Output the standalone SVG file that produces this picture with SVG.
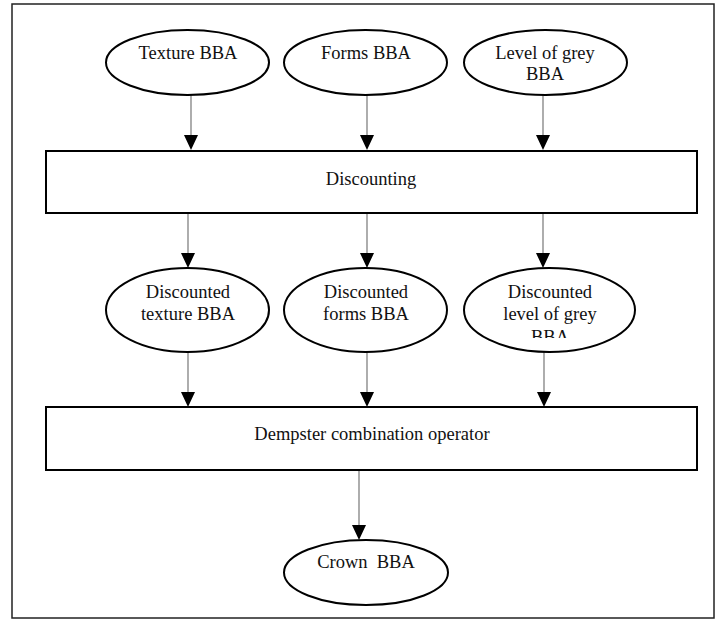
<svg xmlns="http://www.w3.org/2000/svg" width="721" height="621" viewBox="0 0 721 621">
<defs>
<style>
.frame{fill:none;stroke:#222;stroke-width:1.5}
.box{fill:#fff;stroke:#000;stroke-width:2}
.node{fill:#fff;stroke:#000;stroke-width:2}
.edge{stroke:#777;stroke-width:1.2;fill:none}
.head{fill:#000}
text{font-family:"Liberation Serif","Times New Roman",serif;font-size:18.5px;fill:#111;text-anchor:middle}
</style>
<clipPath id="clipGrey"><rect x="464" y="268" width="172" height="70"/></clipPath>
</defs>
<rect class="frame" x="12" y="4" width="702" height="614"/>
<g id="connectors">
<line class="edge" x1="191" y1="95" x2="191" y2="137"/><polygon class="head" points="184,135 198,135 191,150"/>
<line class="edge" x1="367" y1="95" x2="367" y2="137"/><polygon class="head" points="360,135 374,135 367,150"/>
<line class="edge" x1="543" y1="95" x2="543" y2="137"/><polygon class="head" points="536,135 550,135 543,150"/>
<line class="edge" x1="188" y1="213" x2="188" y2="255"/><polygon class="head" points="181,253 195,253 188,268"/>
<line class="edge" x1="367" y1="213" x2="367" y2="255"/><polygon class="head" points="360,253 374,253 367,268"/>
<line class="edge" x1="543" y1="213" x2="543" y2="255"/><polygon class="head" points="536,253 550,253 543,268"/>
<line class="edge" x1="188" y1="352" x2="188" y2="394"/><polygon class="head" points="181,392 195,392 188,407"/>
<line class="edge" x1="367" y1="352" x2="367" y2="394"/><polygon class="head" points="360,392 374,392 367,407"/>
<line class="edge" x1="544" y1="352" x2="544" y2="394"/><polygon class="head" points="537,392 551,392 544,407"/>
<line class="edge" x1="359" y1="470" x2="359" y2="527"/><polygon class="head" points="352,525 366,525 359,540"/>
</g>
<g id="texture"><ellipse class="node" cx="187.5" cy="62.5" rx="81.5" ry="32.5"/><text x="188" y="59">Texture BBA</text></g>
<g id="forms"><ellipse class="node" cx="365.5" cy="62.5" rx="81.5" ry="32.5"/><text x="366" y="59">Forms BBA</text></g>
<g id="grey"><ellipse class="node" cx="545.5" cy="62.5" rx="81.5" ry="32.5"/><text x="545" y="59">Level of grey</text><text x="545" y="80">BBA</text></g>
<g id="discounting"><rect class="box" x="46" y="151" width="651" height="62"/><text x="371" y="185">Discounting</text></g>
<g id="dtexture"><ellipse class="node" cx="187.5" cy="310" rx="81.5" ry="42"/><text x="188" y="298">Discounted</text><text x="188" y="320">texture BBA</text></g>
<g id="dforms"><ellipse class="node" cx="365.5" cy="310" rx="81.5" ry="42"/><text x="366" y="298">Discounted</text><text x="366" y="320">forms BBA</text></g>
<g id="dgrey"><ellipse class="node" cx="549.5" cy="310" rx="85.5" ry="42"/><text x="550" y="298">Discounted</text><text x="550" y="320">level of grey</text><text x="550" y="343" clip-path="url(#clipGrey)">BBA</text></g>
<g id="dempster"><rect class="box" x="46" y="407" width="651" height="63"/><text x="372" y="440">Dempster combination operator</text></g>
<g id="crown"><ellipse class="node" cx="366" cy="572.5" rx="82" ry="32.5"/><text x="366" y="568" xml:space="preserve">Crown  BBA</text></g>
</svg>
